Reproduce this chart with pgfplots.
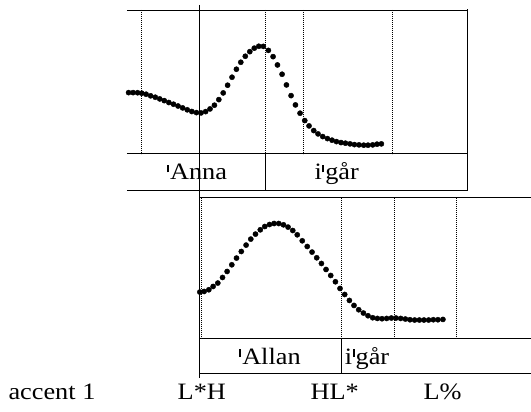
\documentclass[border=0pt]{standalone}
\usepackage{pgfplots}
\pgfplotsset{compat=1.18}
\usepackage{fontspec}
\setmainfont{Liberation Serif}[FakeStretch=1.12]

% pitch contours (x right, y down, in px)
\pgfplotstableread{
x y
128.7 92.7
133.2 92.7
137.7 92.8
141.9 93.3
146.2 94.3
150.8 95.9
155.4 97.3
159.9 99.0
164.4 100.7
169.0 102.6
173.6 104.3
178.2 106.1
182.8 108.0
187.4 109.9
192.0 111.6
196.6 112.7
201.2 113.0
205.8 111.7
210.2 109.0
214.6 105.3
219.0 99.7
223.4 93.0
227.8 85.3
232.2 77.3
236.6 69.3
241.0 62.3
245.5 56.3
250.0 51.7
254.5 48.2
259.0 46.3
263.6 46.4
268.6 50.4
273.3 56.7
277.7 65.0
282.3 74.3
286.7 85.0
291.3 95.7
295.7 105.0
300.3 113.3
305.0 120.7
309.3 126.0
314.0 130.7
318.3 134.0
323.0 136.7
327.7 138.7
332.3 140.3
336.7 141.7
341.3 142.7
345.7 143.3
350.3 144.0
354.7 144.7
359.3 145.0
364.0 145.3
368.3 145.3
373.0 145.0
377.3 144.3
381.7 144.0
}\anna

\pgfplotstableread{
x y
200.0 292.3
204.3 291.7
209.0 290.0
213.3 286.7
218.0 283.3
222.7 277.7
227.3 271.7
232.0 265.0
236.7 258.3
241.5 251.7
246.3 245.3
251.0 239.3
255.7 234.3
260.5 230.0
265.0 226.7
269.7 224.7
274.3 223.7
279.0 223.7
283.7 225.0
288.3 227.3
293.0 230.7
297.5 235.0
302.5 241.0
307.5 246.7
312.3 252.3
317.0 258.0
321.7 263.7
326.3 269.7
331.0 275.7
335.7 282.0
340.3 288.7
345.0 294.7
349.7 300.7
354.3 305.7
359.0 310.0
363.7 313.3
368.3 316.0
373.0 318.0
377.7 318.7
382.3 319.0
387.0 318.7
391.7 318.3
396.3 318.3
401.0 318.7
405.7 319.3
410.3 320.0
415.0 320.3
419.7 320.3
424.3 320.3
429.0 320.3
433.7 320.0
438.3 320.0
443.3 319.7
}\allan

\tikzset{
  seg/.style={dash pattern=on 0.7pt off 1.3pt, line width=0.6pt},
  lab/.style={anchor=base, inner sep=0pt, font=\fontsize{23.5}{27}\selectfont},
}
% stress mark as in the figure: a short heavy bar at cap height
\newcommand{\st}{\kern0.5pt\rule[7.5pt]{1.9pt}{7.8pt}\kern1pt}

\begin{document}
\begin{tikzpicture}
\begin{axis}[
  scale only axis, width=531pt, height=412pt,
  xmin=0, xmax=531, ymin=0, ymax=412, y dir=reverse,
  hide axis, clip=false,
]
\path (axis cs:0,0) rectangle (axis cs:531,412);

% upper panel
\draw[line width=0.9pt] (axis cs:127,10) -- (axis cs:468,10);
\draw[line width=0.9pt] (axis cs:127,154) -- (axis cs:468,154);
\draw[line width=0.9pt] (axis cs:127,191) -- (axis cs:468,191);
\draw[line width=1.5pt] (axis cs:468,9.5) -- (axis cs:468,191.5);
\pgfplotsinvokeforeach{141,266,304,393}{
  \draw[seg] (axis cs:#1,10) -- (axis cs:#1,154);
}
\draw[line width=0.8pt] (axis cs:266,154) -- (axis cs:266,191);
\node[lab] at (axis cs:197,180) {\st Anna};
\node[lab] at (axis cs:337,180) {i\st går};

% lower panel
\draw[line width=0.9pt] (axis cs:200,198) -- (axis cs:531,198);
\draw[line width=0.9pt] (axis cs:200,339) -- (axis cs:531,339);
\draw[line width=0.9pt] (axis cs:200,374) -- (axis cs:531,374);
\pgfplotsinvokeforeach{201.6,342,395,457}{
  \draw[seg] (axis cs:#1,198) -- (axis cs:#1,339);
}
\draw[line width=0.8pt] (axis cs:342,339) -- (axis cs:342,374);
\node[lab] at (axis cs:270,365) {\st Allan};
\node[lab, anchor=base west] at (axis cs:345,365) {i\st går};

% alignment line through both panels
\draw[line width=0.9pt] (axis cs:200,5) -- (axis cs:200,378);

\addplot[only marks, mark=*, mark size=2.6pt, black] table {\anna};
\addplot[only marks, mark=*, mark size=2.6pt, black] table {\allan};

% tone labels
\node[lab] at (axis cs:52,400) {accent 1};
\node[lab] at (axis cs:202,400) {L*H};
\node[lab] at (axis cs:335,400) {HL*};
\node[lab] at (axis cs:443,400) {L\%};
\end{axis}
\end{tikzpicture}
\end{document}
